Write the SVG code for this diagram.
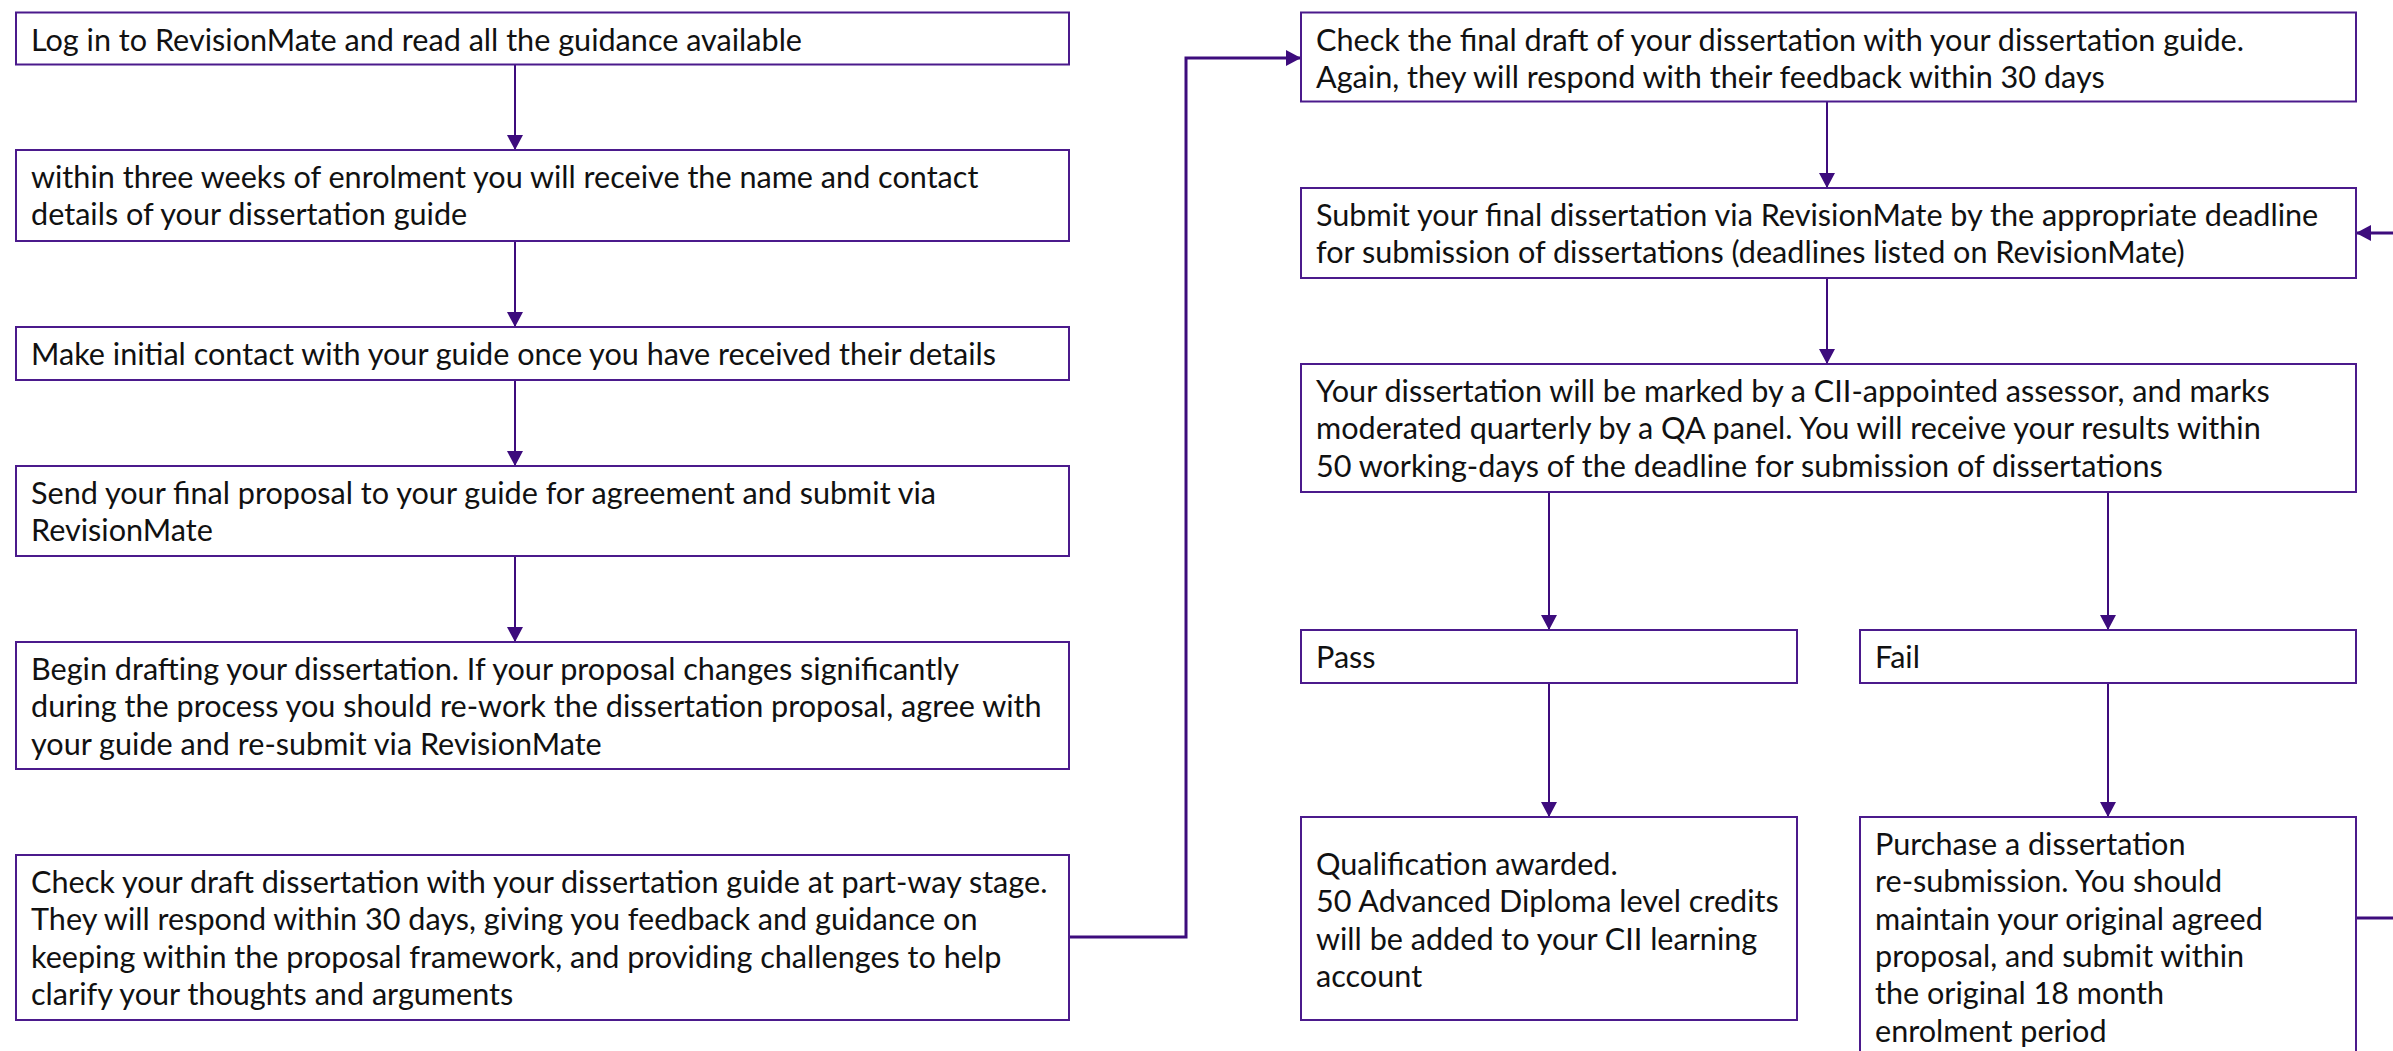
<svg xmlns="http://www.w3.org/2000/svg" width="2393" height="1051" viewBox="0 0 2393 1051">
<defs>
<style>
.box{fill:#ffffff;stroke:#4b1a8c;stroke-width:2}
.t{font-family:Lato,"Liberation Sans",sans-serif;font-size:30.6px;fill:#111111}
.c{fill:none;stroke:#3d0c7d;stroke-width:2}
.c3{fill:none;stroke:#3d0c7d;stroke-width:3}
</style>
<marker id="ah" markerUnits="userSpaceOnUse" markerWidth="16" markerHeight="16" refX="15" refY="8" orient="auto">
<path d="M0,0 L15,8 L0,16 Z" fill="#3d0c7d"/>
</marker>
</defs>
<rect width="2393" height="1051" fill="#ffffff"/>

<g id="connectors">
<line class="c" x1="515" y1="64.5" x2="515" y2="150" marker-end="url(#ah)"/>
<line class="c" x1="515" y1="241" x2="515" y2="327" marker-end="url(#ah)"/>
<line class="c" x1="515" y1="380" x2="515" y2="466" marker-end="url(#ah)"/>
<line class="c" x1="515" y1="556" x2="515" y2="642" marker-end="url(#ah)"/>
<polyline class="c3" points="1069,937 1186,937 1186,58 1301,58" marker-end="url(#ah)"/>
<line class="c" x1="1827" y1="101.5" x2="1827" y2="188" marker-end="url(#ah)"/>
<line class="c" x1="1827" y1="278" x2="1827" y2="364" marker-end="url(#ah)"/>
<line class="c" x1="1549" y1="492" x2="1549" y2="630" marker-end="url(#ah)"/>
<line class="c" x1="2108" y1="492" x2="2108" y2="630" marker-end="url(#ah)"/>
<line class="c" x1="1549" y1="683" x2="1549" y2="817" marker-end="url(#ah)"/>
<line class="c" x1="2108" y1="683" x2="2108" y2="817" marker-end="url(#ah)"/>
<polyline class="c3" points="2356,918 2410,918 2410,233 2356,233" marker-end="url(#ah)"/>
</g>

<g id="n1">
<rect class="box" x="16" y="12.5" width="1053" height="52"/>
<text class="t" x="31" y="50.5">Log in to RevisionMate and read all the guidance available</text>
</g>
<g id="n2">
<rect class="box" x="16" y="150" width="1053" height="91"/>
<text class="t" x="31" y="188"><tspan x="31">within three weeks of enrolment you will receive the name and contact</tspan><tspan x="31" dy="37.3">details of your dissertation guide</tspan></text>
</g>
<g id="n3">
<rect class="box" x="16" y="327" width="1053" height="53"/>
<text class="t" x="31" y="365">Make initial contact with your guide once you have received their details</text>
</g>
<g id="n4">
<rect class="box" x="16" y="466" width="1053" height="90"/>
<text class="t" x="31" y="504"><tspan x="31">Send your final proposal to your guide for agreement and submit via</tspan><tspan x="31" dy="37.3">RevisionMate</tspan></text>
</g>
<g id="n5">
<rect class="box" x="16" y="642" width="1053" height="127"/>
<text class="t" x="31" y="680"><tspan x="31">Begin drafting your dissertation. If your proposal changes significantly</tspan><tspan x="31" dy="37.3">during the process you should re-work the dissertation proposal, agree with</tspan><tspan x="31" dy="37.3">your guide and re-submit via RevisionMate</tspan></text>
</g>
<g id="n6">
<rect class="box" x="16" y="855" width="1053" height="165"/>
<text class="t" x="31" y="893"><tspan x="31">Check your draft dissertation with your dissertation guide at part-way stage.</tspan><tspan x="31" dy="37.3">They will respond within 30 days, giving you feedback and guidance on</tspan><tspan x="31" dy="37.3">keeping within the proposal framework, and providing challenges to help</tspan><tspan x="31" dy="37.3">clarify your thoughts and arguments</tspan></text>
</g>
<g id="n7">
<rect class="box" x="1301" y="12.5" width="1055" height="89"/>
<text class="t" x="1316" y="50.5"><tspan x="1316">Check the final draft of your dissertation with your dissertation guide.</tspan><tspan x="1316" dy="37.3">Again, they will respond with their feedback within 30 days</tspan></text>
</g>
<g id="n8">
<rect class="box" x="1301" y="188" width="1055" height="90"/>
<text class="t" x="1316" y="226"><tspan x="1316">Submit your final dissertation via RevisionMate by the appropriate deadline</tspan><tspan x="1316" dy="37.3">for submission of dissertations (deadlines listed on RevisionMate)</tspan></text>
</g>
<g id="n9">
<rect class="box" x="1301" y="364" width="1055" height="128"/>
<text class="t" x="1316" y="402"><tspan x="1316">Your dissertation will be marked by a CII-appointed assessor, and marks</tspan><tspan x="1316" dy="37.3">moderated quarterly by a QA panel. You will receive your results within</tspan><tspan x="1316" dy="37.3">50 working-days of the deadline for submission of dissertations</tspan></text>
</g>
<g id="n10">
<rect class="box" x="1301" y="630" width="496" height="53"/>
<text class="t" x="1316" y="668">Pass</text>
</g>
<g id="n11">
<rect class="box" x="1860" y="630" width="496" height="53"/>
<text class="t" x="1875" y="668">Fail</text>
</g>
<g id="n12">
<rect class="box" x="1301" y="817" width="496" height="203"/>
<text class="t" x="1316" y="875"><tspan x="1316">Qualification awarded.</tspan><tspan x="1316" dy="37.3">50 Advanced Diploma level credits</tspan><tspan x="1316" dy="37.3">will be added to your CII learning</tspan><tspan x="1316" dy="37.3">account</tspan></text>
</g>
<g id="n13">
<rect class="box" x="1860" y="817" width="496" height="243"/>
<text class="t" x="1875" y="855"><tspan x="1875">Purchase a dissertation</tspan><tspan x="1875" dy="37.3">re-submission. You should</tspan><tspan x="1875" dy="37.3">maintain your original agreed</tspan><tspan x="1875" dy="37.3">proposal, and submit within</tspan><tspan x="1875" dy="37.3">the original 18 month</tspan><tspan x="1875" dy="37.3">enrolment period</tspan></text>
</g>
</svg>
